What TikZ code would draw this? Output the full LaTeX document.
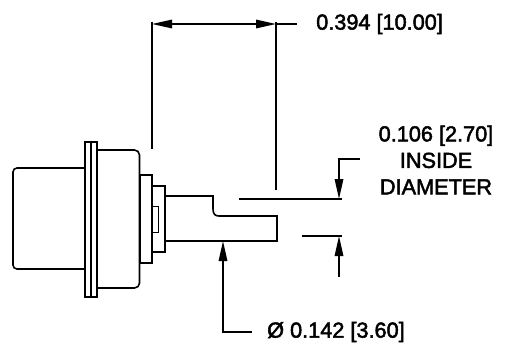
\documentclass[tikz,border=0pt]{standalone}
\usepackage{fontspec}
\setmainfont{Liberation Sans}
\newfontfamily\dimfont[FakeBold=2.2]{Liberation Sans}
\usetikzlibrary{arrows.meta}
\tikzset{
  part/.style={draw=black,line width=1.6pt,fill=white,line join=miter},
  dim/.style={draw=black,line width=1.6pt},
  tipped/.style={dim,-{Triangle[length=20pt,width=8.5pt]}},
  bothtipped/.style={dim,{Triangle[length=20pt,width=8.5pt]}-{Triangle[length=20pt,width=8.5pt]}},
  lbl/.style={inner sep=0pt,font=\dimfont\fontsize{21.7pt}{26.5pt}\selectfont,align=center,text=black}
}
\begin{document}
\begin{tikzpicture}[x=1pt,y=-1pt]
\useasboundingbox (0,0) rectangle (508,354);
% connector body
\draw[part,rounded corners=4pt] (85,168) -- (13,168) -- (13,269) -- (85,269);
\draw[part,rounded corners=5pt] (97,150) -- (139.5,150) -- (139.5,288) -- (97,288);
\draw[part] (85,142) rectangle (97,297);
\draw[part] (91,142) -- (91,297);
\draw[part] (140,175) rectangle (152,263);
\draw[part] (152,186) rectangle (165,252);
\draw[part,line width=1pt] (152,206) rectangle (158.5,232);
% pin
\draw[part,fill=none] (165,196) -- (213,196) -- (213,209) .. controls (213,214) and (215,216) .. (219,216) -- (277,216) -- (277,241) -- (165,241);
% dimension lines
\coordinate (extA) at (152,149);
\coordinate (extAtop) at (152,22);
\coordinate (extB) at (276,190);
\coordinate (extBtop) at (276,22);
\coordinate (dimA) at (152,24);
\coordinate (dimB) at (276,24);
\coordinate (dimEnd) at (297,24);
\draw[dim] (extA) -- (extAtop);
\draw[dim] (extB) -- (extBtop);
\draw[bothtipped] (dimA) -- (dimB);
\draw[dim] (dimB) -- (dimEnd);
\coordinate (upL) at (239,199);
\coordinate (upR) at (342,199);
\coordinate (upTip) at (339,199);
\coordinate (upTop) at (339,159);
\coordinate (upEnd) at (360,159);
\draw[dim] (upL) -- (upR);
\draw[tipped] (upEnd) -- (upTop) -- (upTip);
\coordinate (loL) at (302,236);
\coordinate (loR) at (342,236);
\coordinate (loTip) at (339,236);
\coordinate (loEnd) at (339,277);
\draw[dim] (loL) -- (loR);
\draw[tipped] (loEnd) -- (loTip);
\coordinate (leadTip) at (223,241);
\coordinate (leadKnee) at (223,332);
\coordinate (leadEnd) at (252,332);
\draw[tipped] (leadEnd) -- (leadKnee) -- (leadTip);
% labels
\node[lbl,anchor=west] (lenlabel) at (316,24) {0.394 [10.00]};
\node[lbl] (idlabel) at (436,160) {0.106 [2.70]\\INSIDE\\DIAMETER};
\node[lbl,anchor=west] (odlabel) at (267,332) {Ø 0.142 [3.60]};
\end{tikzpicture}
\end{document}
